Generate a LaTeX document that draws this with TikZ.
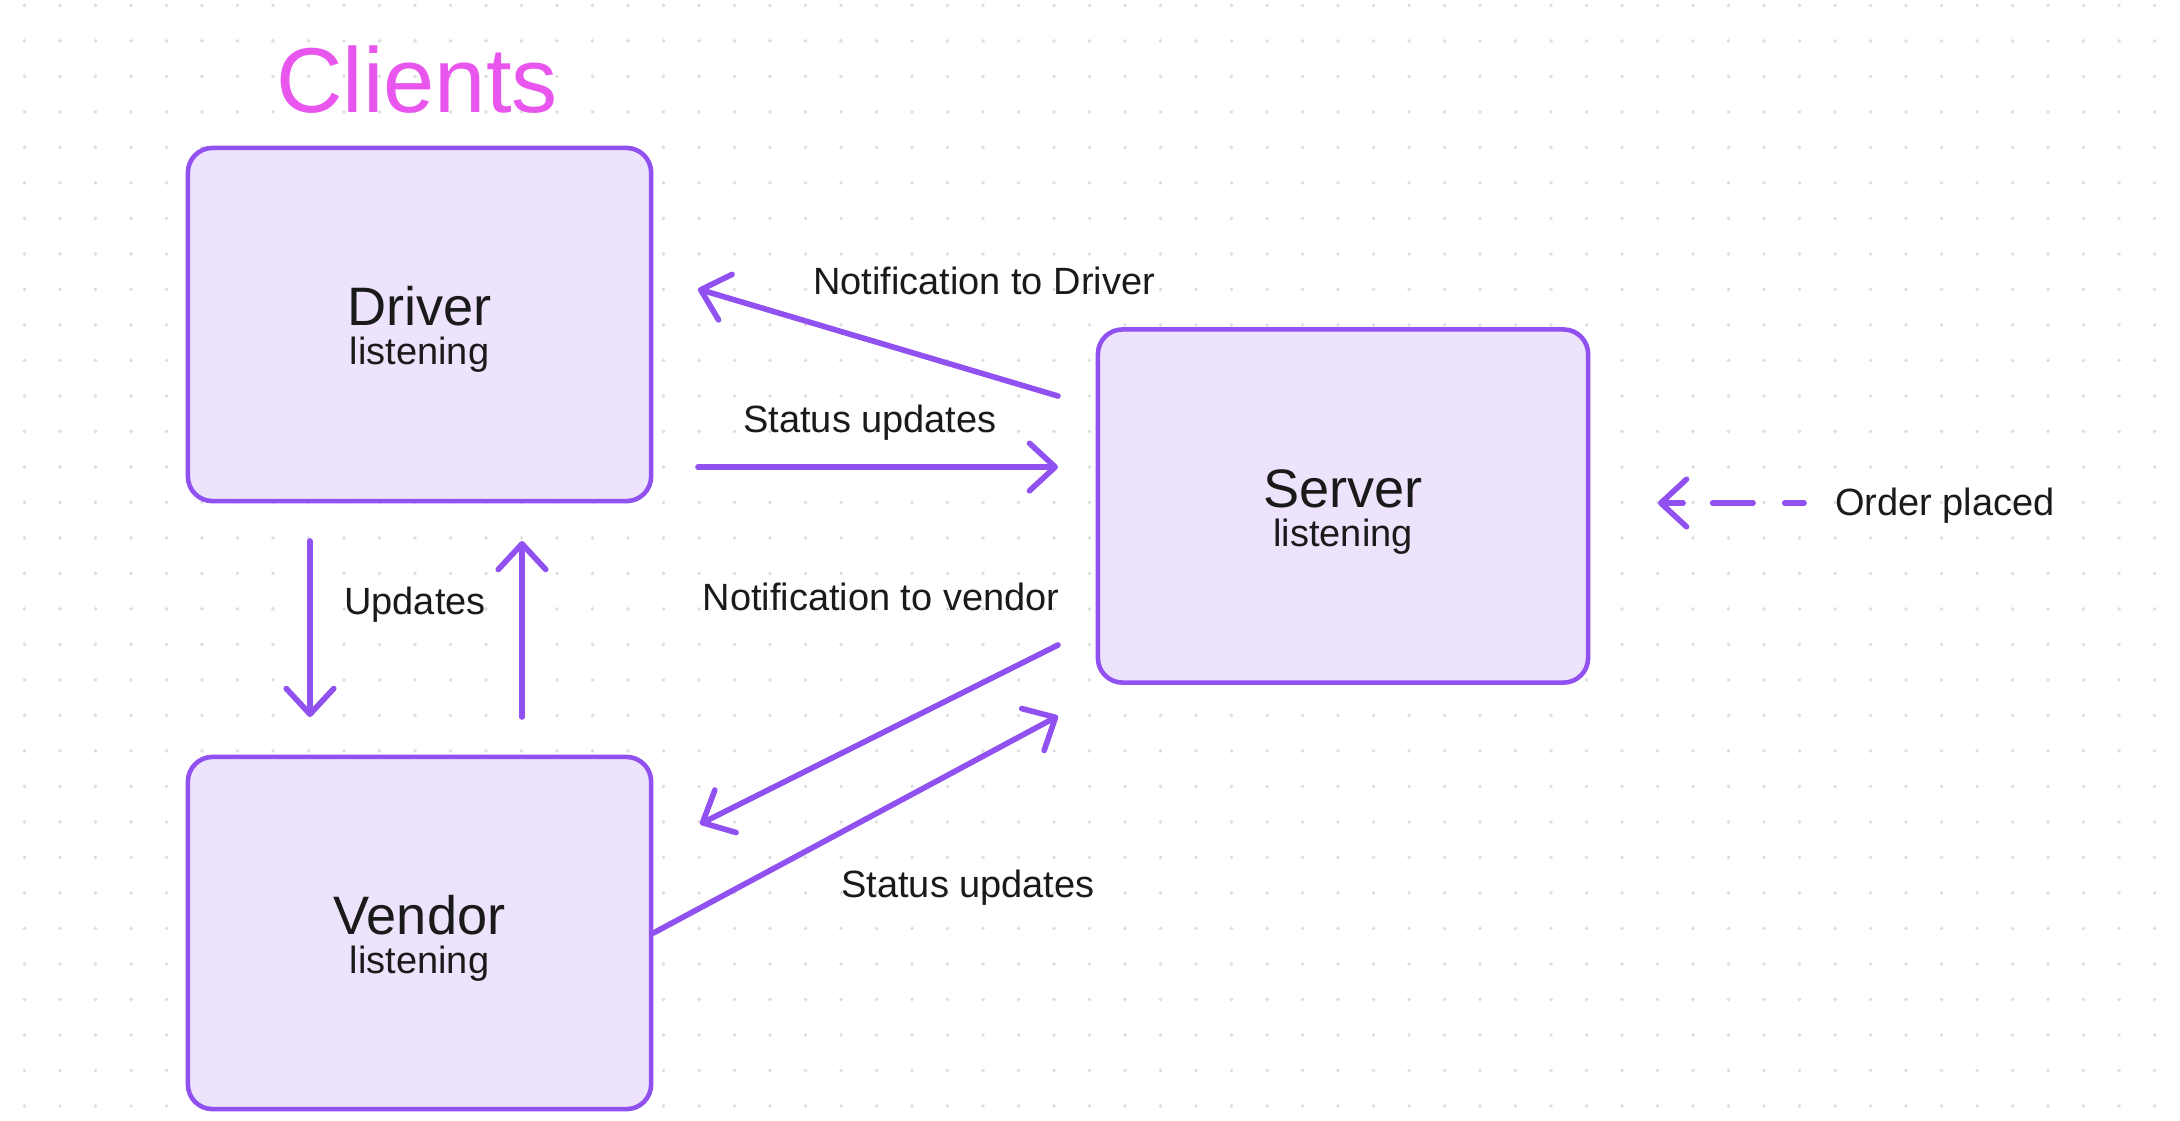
\documentclass[tikz,border=0pt]{standalone}
\usepackage{fontspec}
\setmainfont{Liberation Sans}
\usetikzlibrary{arrows.meta}
\definecolor{linkpurple}{HTML}{9150F0}
\definecolor{boxfill}{HTML}{EDE3FC}
\definecolor{titlepink}{HTML}{E956EE}
\definecolor{gridgray}{HTML}{DEDEDE}
\definecolor{inkblack}{HTML}{1A1A1A}

\begin{document}
\begin{tikzpicture}[
    x=0.01cm, y=-0.01cm,
    client/.style={rectangle, rounded corners=7pt, draw=linkpurple, line width=1.3pt,
        fill=boxfill, align=center, text=inkblack,
        font=\fontsize{10.8}{11.1}\selectfont},
    label/.style={anchor=base, text=inkblack, font=\fontsize{10.8}{13}\selectfont},
    link/.style={draw=linkpurple, line width=1.6pt, line cap=round,
        -{Straight Barb[length=7.3pt,width=13.5pt,round]}}
]
    \useasboundingbox (0,0) rectangle (2180,1120);
    \foreach \i in {0,...,60}
        \foreach \j in {0,...,31}
            \fill[gridgray] (24.5+35.5*\i, 5.4+35.5*\j) circle[radius=0.55pt];

    \node[anchor=base, text=titlepink, font=\fontsize{26.2}{30}\selectfont] (clients) at (417,112) {Clients};

    \node[client, minimum width=463*0.2845pt, minimum height=353*0.2845pt] (driver) at (419.5,324.5)
        {\rule{0pt}{14pt}{\fontsize{15.4}{11.1}\selectfont Driver}\\listening};
    \node[client, minimum width=463*0.2845pt, minimum height=352*0.2845pt] (vendor) at (419.5,933)
        {\rule{0pt}{14pt}{\fontsize{15.4}{11.1}\selectfont Vendor}\\listening};
    \node[client, minimum width=490*0.2845pt, minimum height=353*0.2845pt] (server) at (1343,506)
        {\rule{0pt}{14pt}{\fontsize{15.4}{11.1}\selectfont Server}\\listening};

    \coordinate (ntdfrom) at (1058,396);
    \coordinate (ntdto) at (698,289);
    \coordinate (dsufrom) at (698,467);
    \coordinate (dsuto) at (1058,467);
    \coordinate (downfrom) at (310,541);
    \coordinate (downto) at (310,717);
    \coordinate (upfrom) at (522,717);
    \coordinate (upto) at (522,541);
    \coordinate (ntvfrom) at (1058,645);
    \coordinate (ntvto) at (700,824);
    \coordinate (vsuto) at (1058,716);
    \coordinate (orderfrom) at (1804,503);
    \coordinate (orderto) at (1658,503);

    \draw[link] (ntdfrom) -- (ntdto);
    \draw[link] (dsufrom) -- (dsuto);
    \draw[link] (downfrom) -- (downto);
    \draw[link] (upfrom) -- (upto);
    \draw[link] (ntvfrom) -- (ntvto);
    \draw[link] (vendor.east) -- (vsuto);
    \draw[link, dash pattern=on 5.5pt off 9pt on 11.5pt off 8.4pt on 20pt] (orderfrom) -- (orderto);

    \node[label] (ntdlabel) at (984,294) {Notification to Driver};
    \node[label] (dsulabel) at (870,432) {Status updates};
    \node[label] (updlabel) at (415,614) {Updates};
    \node[label] (ntvlabel) at (881,610) {Notification to vendor};
    \node[label] (vsulabel) at (968,897) {Status updates};
    \node[label] (orderlabel) at (1945,515) {Order placed};
\end{tikzpicture}
\end{document}
